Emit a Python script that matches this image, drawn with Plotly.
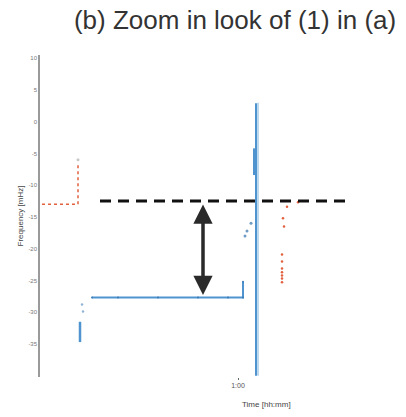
import plotly.graph_objects as go

# ---- data (time in s, frequency deviation in mHz) ----
y_tick_vals = [10, 5, 0, -5, -10, -15, -20, -25, -30, -35]
y_tick_text = ["10", "5", "0", "-5", "-10", "-15", "-20", "-25", "-30", "-35"]
x_tick_vals = [3600]
x_tick_text = ["1:00"]

red_pre_t = [3404, 3416, 3428, 3440, 3440, 3440, 3440]
red_pre_v = [-13.0, -13.0, -13.0, -13.0, -11.0, -8.5, -6.8]
red_top_t = [3440]
red_top_v = [-6.0]

blue_low_t = [3442, 3442, 3442]
blue_low_v = [-31.5, -33.0, -34.7]
blue_low_pts_t = [3444, 3445]
blue_low_pts_v = [-28.8, -29.9]

blue_flat_t = [3454, 3480, 3520, 3560, 3590, 3605, 3605]
blue_flat_v = [-27.7, -27.7, -27.7, -27.7, -27.7, -27.7, -25.2]

blue_spike_t = [3618, 3618]
blue_spike_v = [2.9, -40.0]
blue_thick_t = [3617, 3617]
blue_thick_v = [-4.2, -8.4]
light_t = [3620, 3620]
light_v = [3.0, -40.0]

blue_pts_t = [3607, 3609, 3613]
blue_pts_v = [-18.0, -17.2, -16.0]

red_post_t = [3660, 3649, 3645, 3646, 3644, 3644, 3644, 3644, 3644, 3644, 3644]
red_post_v = [-12.7, -13.4, -15.2, -16.5, -20.9, -22.0, -23.1, -23.7, -24.2, -24.7, -25.3]

ref_t = [3462, 3712]
ref_v = [-12.5, -12.5]
arrow_t = 3565
arrow_top = -12.8
arrow_bottom = -27.3

BLUE = "#4f93cf"
RED = "#e2603d"

fig = go.Figure()
fig.add_trace(go.Scatter(x=light_t, y=light_v, mode="lines",
                         line=dict(color="#bcd9ee", width=2)))
fig.add_trace(go.Scatter(x=red_pre_t, y=red_pre_v, mode="lines",
                         line=dict(color=RED, width=1.5, dash="dot")))
fig.add_trace(go.Scatter(x=red_top_t, y=red_top_v, mode="markers",
                         marker=dict(color="#c8c8c8", size=3)))
fig.add_trace(go.Scatter(x=blue_low_t, y=blue_low_v, mode="lines",
                         line=dict(color=BLUE, width=2.5)))
fig.add_trace(go.Scatter(x=blue_low_pts_t, y=blue_low_pts_v, mode="markers",
                         marker=dict(color="#8fb5d6", size=2.5)))
fig.add_trace(go.Scatter(x=blue_flat_t, y=blue_flat_v, mode="lines+markers",
                         line=dict(color=BLUE, width=2),
                         marker=dict(color="#3a7ab8", size=2)))
fig.add_trace(go.Scatter(x=blue_spike_t, y=blue_spike_v, mode="lines",
                         line=dict(color=BLUE, width=2)))
fig.add_trace(go.Scatter(x=blue_thick_t, y=blue_thick_v, mode="lines",
                         line=dict(color=BLUE, width=4)))
fig.add_trace(go.Scatter(x=blue_pts_t, y=blue_pts_v, mode="markers",
                         marker=dict(color="#6f9cc5", size=3)))
fig.add_trace(go.Scatter(x=red_post_t, y=red_post_v, mode="markers",
                         marker=dict(color=RED, size=2.5)))
fig.add_trace(go.Scatter(x=ref_t, y=ref_v, mode="lines",
                         line=dict(color="#111111", width=3, dash="11px,7px")))

fig.add_annotation(x=arrow_t, y=arrow_bottom, ax=arrow_t, ay=arrow_top,
                   xref="x", yref="y", axref="x", ayref="y",
                   showarrow=True, arrowhead=2, arrowside="end+start",
                   arrowsize=1.1, arrowwidth=3.5, arrowcolor="#2a2a2a", text="")

fig.add_annotation(x=3628, y=-0.085, xref="x", yref="paper",
                   text="Time [hh:mm]", showarrow=False,
                   font=dict(size=8, color="#444444"), yanchor="middle")

fig.update_layout(
    width=406, height=417,
    margin=dict(l=40, r=36, t=55, b=40),
    paper_bgcolor="white", plot_bgcolor="white",
    showlegend=False,
    font=dict(family="Liberation Sans, Arial, sans-serif"),
    title=dict(text="(b) Zoom in look of (1) in (a)", xref="container",
               yref="container", x=0.579, xanchor="center",
               y=0.952, yanchor="middle",
               font=dict(size=26, color="#333333")),
    xaxis=dict(range=[3402, 3732], tickvals=x_tick_vals, ticktext=x_tick_text,
               showgrid=False, zeroline=False, showline=False,
               ticks="outside", ticklen=2, tickcolor="#666666",
               tickfont=dict(size=7, color="#555555")),
    yaxis=dict(range=[-40.2, 10.5], tickvals=y_tick_vals, ticktext=y_tick_text,
               showgrid=False, zeroline=False, showline=True,
               linecolor="#9a9a9a", linewidth=1.5,
               ticks="", tickfont=dict(size=6, color="#777777"),
               title=dict(text="Frequency [mHz]", standoff=4,
                          font=dict(size=8, color="#444444"))),
)

fig.write_html("out.html")
